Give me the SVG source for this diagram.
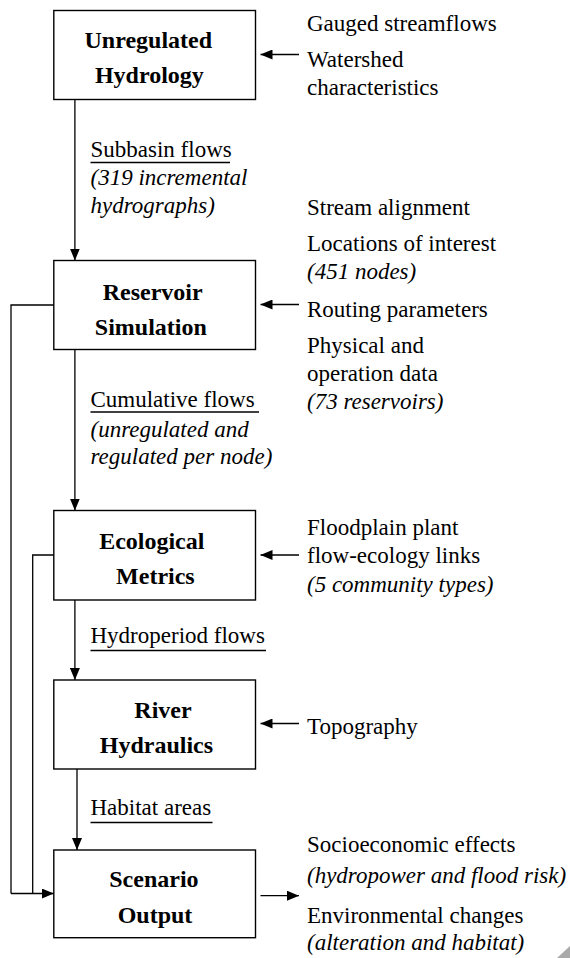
<svg xmlns="http://www.w3.org/2000/svg" width="570" height="958" viewBox="0 0 570 958">
<style>
text{font-family:'Liberation Serif',Tinos,'Times New Roman','DejaVu Serif',serif;fill:#000}
.box{fill:#fff;stroke:#000;stroke-width:1.4}
.t{font-size:24px;font-weight:bold;text-anchor:middle}
.l{font-size:23px}
.i{font-style:italic}
.c{fill:none;stroke:#000;stroke-width:1.3}
.u{stroke:#000;stroke-width:1.5}
</style>
<defs>
<marker id="ah" viewBox="0 0 12 10" refX="12" refY="5" markerWidth="12" markerHeight="10" markerUnits="userSpaceOnUse" orient="auto">
<path d="M0,0 L12,5 L0,10 z" fill="#000"/>
</marker>
</defs>
<rect width="570" height="958" fill="#fff"/>

<g id="connectors">
<line class="c" x1="74.9" y1="99.5" x2="74.9" y2="260.5" marker-end="url(#ah)"/>
<line class="c" x1="74.9" y1="349.5" x2="74.9" y2="510.5" marker-end="url(#ah)"/>
<line class="c" x1="74.9" y1="600" x2="74.9" y2="680" marker-end="url(#ah)"/>
<line class="c" x1="77" y1="769" x2="77" y2="850" marker-end="url(#ah)"/>
<polyline class="c" points="53.8,305 11,305 11,893.5"/>
<polyline class="c" points="53.8,555 32.7,555 32.7,893.5"/>
<line class="c" x1="11" y1="893.5" x2="53.8" y2="893.5" marker-end="url(#ah)"/>
<line class="c" x1="299" y1="54.5" x2="260.5" y2="54.5" marker-end="url(#ah)"/>
<line class="c" x1="299" y1="304.5" x2="260.5" y2="304.5" marker-end="url(#ah)"/>
<line class="c" x1="299" y1="555" x2="260.5" y2="555" marker-end="url(#ah)"/>
<line class="c" x1="299" y1="723.5" x2="260.5" y2="723.5" marker-end="url(#ah)"/>
<line class="c" x1="260.5" y1="895.7" x2="299" y2="895.7" marker-end="url(#ah)"/>
<text class="l" x="90.5" y="157">Subbasin flows </text>
<line class="u" x1="90.5" y1="162.5" x2="230" y2="162.5"/>
<text class="l i" x="90.5" y="185">(319 incremental</text>
<text class="l i" x="90.5" y="213">hydrographs)</text>
<text class="l" x="90.5" y="407">Cumulative flows</text>
<line class="u" x1="90.5" y1="412" x2="259" y2="412"/>
<text class="l i" x="90.5" y="437">(unregulated and</text>
<text class="l i" x="90.5" y="464">regulated per node)</text>
<text class="l" x="90.5" y="643">Hydroperiod flows</text>
<line class="u" x1="90.5" y1="650.5" x2="266" y2="650.5"/>
<text class="l" x="90.5" y="815">Habitat areas</text>
<line class="u" x1="90.5" y1="822.5" x2="212.5" y2="822.5"/>
</g>

<g id="unregulated-hydrology">
<rect class="box" x="53.8" y="10.5" width="201.7" height="89"/>
<text class="t" x="148.3" y="48">Unregulated</text>
<text class="t" x="149.4" y="83">Hydrology</text>
</g>
<g id="hydrology-inputs">
<text class="l" x="307" y="31">Gauged streamflows</text>
<text class="l" x="307" y="66.7">Watershed</text>
<text class="l" x="307" y="95">characteristics</text>
</g>

<g id="reservoir-simulation">
<rect class="box" x="53.8" y="260.5" width="201.7" height="89"/>
<text class="t" x="152.7" y="300">Reservoir</text>
<text class="t" x="150.8" y="335">Simulation</text>
</g>
<g id="reservoir-inputs">
<text class="l" x="307" y="214.5">Stream alignment</text>
<text class="l" x="307" y="251">Locations of interest</text>
<text class="l i" x="307" y="279">(451 nodes)</text>
<text class="l" x="307" y="316.5">Routing parameters</text>
<text class="l" x="307" y="352.5">Physical and</text>
<text class="l" x="307" y="380.5">operation data</text>
<text class="l i" x="307" y="408.5">(73 reservoirs)</text>
</g>

<g id="ecological-metrics">
<rect class="box" x="53.8" y="510.5" width="201.7" height="89.5"/>
<text class="t" x="151.8" y="549">Ecological</text>
<text class="t" x="155.4" y="584.3">Metrics</text>
</g>
<g id="ecological-inputs">
<text class="l" x="307" y="535">Floodplain plant</text>
<text class="l" x="307" y="563">flow-ecology links</text>
<text class="l i" x="307" y="591.7">(5 community types)</text>
</g>

<g id="river-hydraulics">
<rect class="box" x="53.8" y="680" width="201.7" height="89"/>
<text class="t" x="163" y="718">River</text>
<text class="t" x="156.4" y="753">Hydraulics</text>
</g>
<g id="hydraulics-inputs">
<text class="l" x="307" y="734">Topography</text>
</g>

<g id="scenario-output">
<rect class="box" x="53.8" y="850" width="201.7" height="87.7"/>
<text class="t" x="153.9" y="887">Scenario</text>
<text class="t" x="155" y="922.7">Output</text>
</g>
<g id="outputs">
<text class="l" x="307" y="852">Socioeconomic effects</text>
<text class="l i" x="307" y="883">(hydropower and flood risk)</text>
<text class="l" x="307" y="922.5">Environmental changes</text>
<text class="l i" x="307" y="949.5">(alteration and habitat)</text>
</g>
<polygon points="557,958 570,946 570,958" fill="#aaa"/>
</svg>
